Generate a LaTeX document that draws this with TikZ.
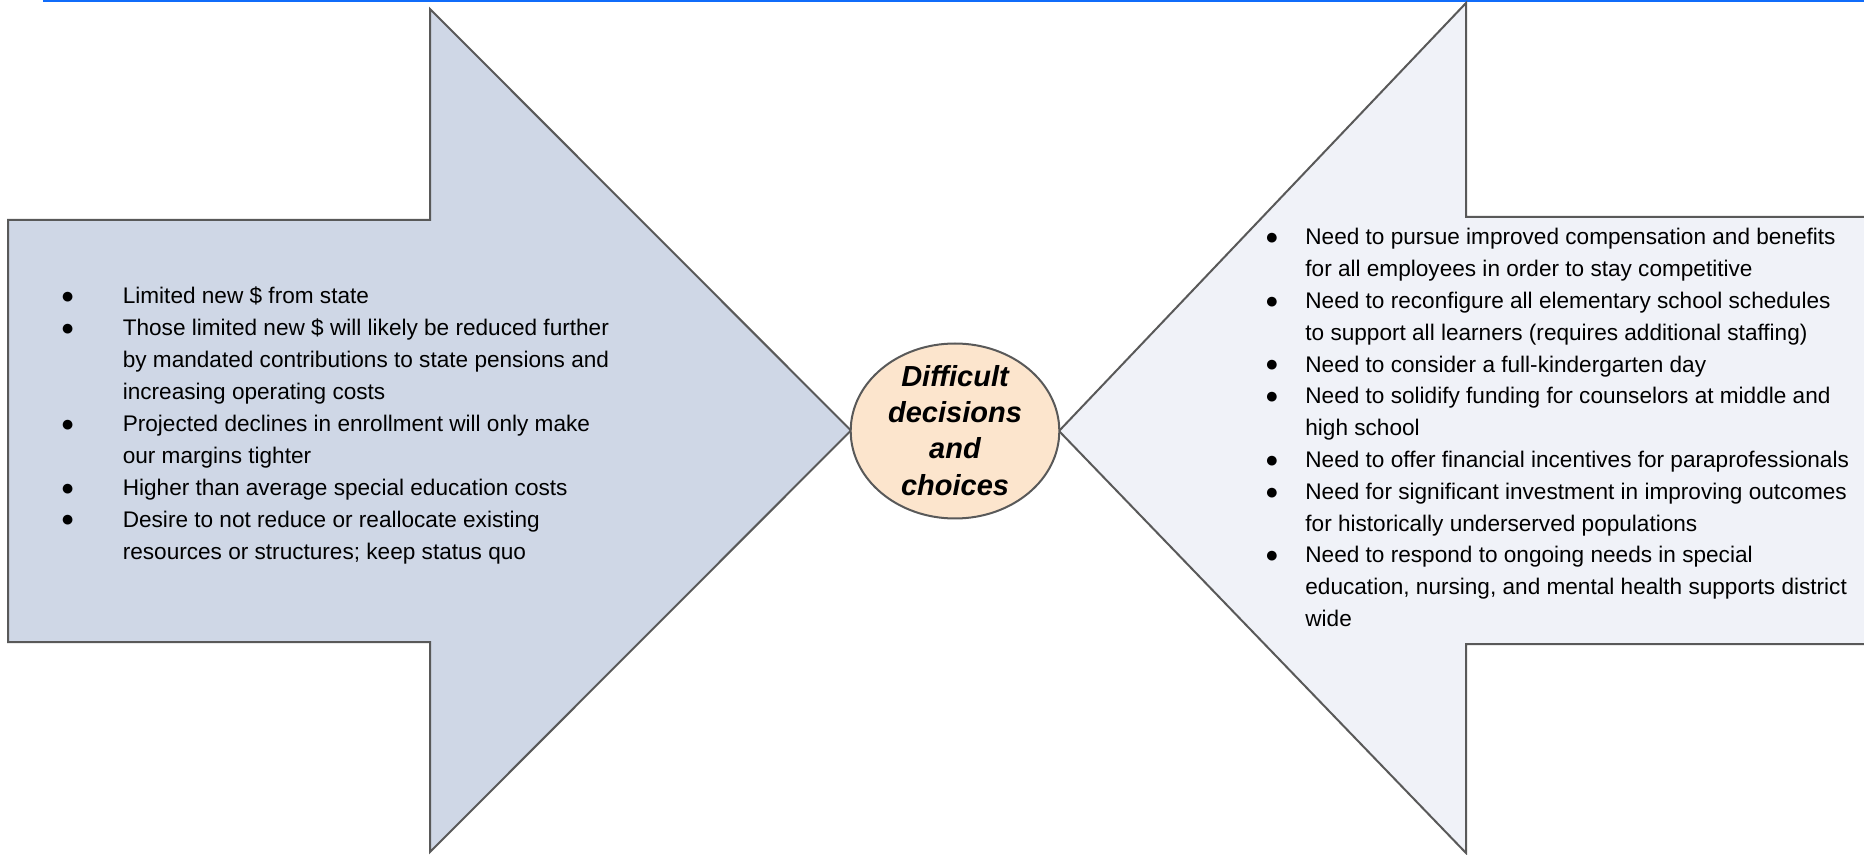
\documentclass[tikz,border=0pt]{standalone}
\usepackage{fontspec}
\setmainfont[Ligatures={NoCommon}]{Liberation Sans}
\usetikzlibrary{shapes.geometric}
\definecolor{edgegray}{RGB}{89,89,89}
\definecolor{leftfill}{RGB}{207,215,230}
\definecolor{rightfill}{RGB}{240,242,248}
\definecolor{centerfill}{RGB}{252,229,205}
\definecolor{topblue}{RGB}{16,108,250}
\tikzset{
  arrowshape/.style={draw=edgegray, line width=1pt, line join=miter},
  itemtext/.style={anchor=base west, align=left, inner sep=0pt,
    font=\fontsize{11.3}{15.95}\selectfont},
  bulletmark/.style={inner sep=0pt, font=\fontsize{11.3}{11.3}\selectfont},
  centertext/.style={anchor=base, align=center, inner sep=0pt,
    font=\fontsize{14.5}{18.05}\selectfont\bfseries\itshape},
}
\begin{document}
\begin{tikzpicture}[x=0.5pt,y=-0.5pt]
\useasboundingbox (0,0) rectangle (1864,855);
\clip (0,0) rectangle (1864,855);
% top blue rule
\draw[topblue, line width=0.8pt] (43,1) -- (1870,1);
% left arrow
\draw[arrowshape, fill=leftfill] (8,220) -- (430,220) -- (430,9) -- (851,430.5)
  -- (430,852) -- (430,642) -- (8,642) -- cycle;
% right arrow
\draw[arrowshape, fill=rightfill] (1875,217) -- (1466,217) -- (1466,3) -- (1059,431)
  -- (1466,853) -- (1466,644) -- (1875,644);
% centre ellipse
\node[ellipse, draw=edgegray, line width=1pt, fill=centerfill, inner sep=0pt,
  minimum width=104.3pt, minimum height=87.5pt] (center) at (955,431) {};
% multi-line nodes: base anchor sits on the last line's baseline
\node[centertext] (centerlabel) at (955,495) {Difficult\\decisions\\and\\choices};
% left items
\foreach \n/\y in {1/304, 2/335.9, 3/431.6, 4/495.4, 5/527.3}
  \node[bulletmark] (lb\n) at (67.8,\y-6) {●};
\node[itemtext] (l1) at (122.4,304) {Limited new \$ from state};
\node[itemtext] (l2) at (122.4,399.7) {Those limited new \$ will likely be reduced further\\by mandated contributions to state pensions and\\increasing operating costs};
\node[itemtext] (l3) at (122.4,463.5) {Projected declines in enrollment will only make\\our margins tighter};
\node[itemtext] (l4) at (122.4,495.4) {Higher than average special education costs};
\node[itemtext] (l5) at (122.4,559.2) {Desire to not reduce or reallocate existing\\resources or structures; keep status quo};
% right items
\foreach \n/\y in {1/245, 2/308.6, 3/372.2, 4/404, 5/467.6, 6/499.4, 7/563}
  \node[bulletmark] (rb\n) at (1272,\y-6) {●};
\node[itemtext] (r1) at (1305,276.8) {Need to pursue improved compensation and benefits\\for all employees in order to stay competitive};
\node[itemtext] (r2) at (1305,340.4) {Need to reconfigure all elementary school schedules\\to support all learners (requires additional staffing)};
\node[itemtext] (r3) at (1305,372.2) {Need to consider a full-kindergarten day};
\node[itemtext] (r4) at (1305,435.8) {Need to solidify funding for counselors at middle and\\high school};
\node[itemtext] (r5) at (1305,467.6) {Need to offer financial incentives for paraprofessionals};
\node[itemtext] (r6) at (1305,531.2) {Need for significant investment in improving outcomes\\for historically underserved populations};
\node[itemtext] (r7) at (1305,626.6) {Need to respond to ongoing needs in special\\education, nursing, and mental health supports district\\wide};
\end{tikzpicture}
\end{document}
